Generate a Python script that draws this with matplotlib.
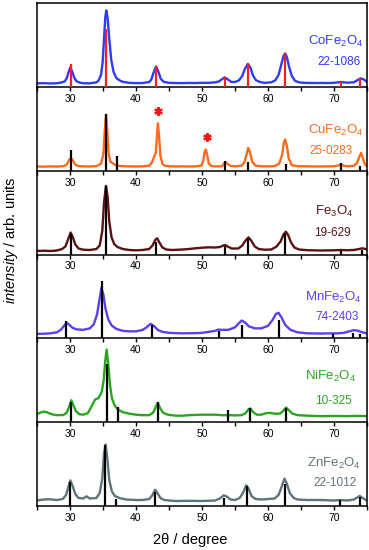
import numpy as np
import matplotlib
matplotlib.use('Agg')
import matplotlib.pyplot as plt
import matplotlib.ticker as ticker

plt.rcParams['font.family'] = ['Liberation Sans', 'DejaVu Sans']
plt.rcParams['mathtext.fontset'] = 'custom'
plt.rcParams['mathtext.rm'] = 'Liberation Sans'
plt.rcParams['mathtext.it'] = 'Liberation Sans:italic'

# scans: (2theta, height in panel pixels)
co_scan = [(25, 3.5), (26, 3.7), (27, 3.4), (28, 3.6), (28.8, 4.5), (29.2, 5.5), (29.5, 8.5), (29.75, 14),
           (30.05, 19.5), (30.35, 15), (30.65, 9), (31, 5.5), (31.5, 4.2), (32, 3.6), (33, 3.5), (34, 4.5),
           (34.3, 6), (34.7, 12), (34.95, 25), (35.15, 48), (35.35, 70), (35.5, 76.5), (35.7, 69),
           (35.95, 48), (36.25, 27), (36.6, 15), (37, 9), (37.5, 6.5), (38, 5), (39, 4), (40, 3.7), (41, 3.8),
           (42, 4.8), (42.3, 7), (42.65, 14), (43.05, 20.5), (43.4, 15), (43.75, 8), (44.2, 5), (45, 4),
           (46, 3.8), (47, 3.7), (48, 3.9), (49, 3.8), (50, 4), (51, 4), (52, 4.5), (52.6, 5.5), (53.0, 7.5),
           (53.45, 9.5), (53.9, 7.5), (54.4, 5), (55, 4.8), (55.6, 6.5), (56.1, 11), (56.5, 18), (56.95, 23),
           (57.35, 19), (57.75, 11), (58.2, 6.5), (58.8, 4.8), (59.5, 4), (60.5, 4.5), (61.1, 6.5), (61.6, 12),
           (62.0, 22), (62.35, 31), (62.6, 33.5), (62.85, 30), (63.2, 20), (63.6, 11), (64.1, 6), (64.7, 4.5),
           (65.5, 4), (67, 3.8), (68, 3.9), (69, 3.8), (70, 4), (71, 4.8), (72, 4.2), (73, 4.5),
           (73.5, 6.5), (74, 8.5), (74.5, 7.5), (75, 5)]
cu_scan = [(25, 4.2), (26, 4.0), (27, 4.3), (28, 4.1), (29, 4.5), (29.5, 6), (29.85, 10.5), (30.15, 12.8),
           (30.45, 10), (30.8, 6), (31.3, 4.6), (32, 4.3), (33, 4.2), (34, 4.5), (34.7, 7), (35.05, 16),
           (35.25, 38), (35.45, 56), (35.65, 40), (35.85, 17), (36.1, 9), (36.35, 8), (36.7, 6.5), (37, 5),
           (38, 4.5), (39, 4.3), (40, 4.2), (41, 4.3), (42, 5), (42.4, 8), (42.75, 14), (43.0, 18),
           (43.15, 32), (43.32, 47.5), (43.5, 34), (43.7, 15), (44.0, 7), (44.4, 4.8), (45, 4.4),
           (46, 4.2), (47, 4.3), (48, 4.2), (49, 4.3), (49.9, 5), (50.2, 10), (50.4, 19), (50.6, 21.2),
           (50.8, 15), (51.05, 7), (51.4, 4.6), (52, 4.3), (53, 4.5), (53.25, 6), (53.55, 8.8), (53.85, 7),
           (54.3, 4.8), (55, 4.3), (56, 5), (56.4, 8), (56.75, 16), (57.0, 22.8), (57.25, 19), (57.6, 9),
           (58.1, 5), (59, 4.4), (60, 4.3), (61, 4.5), (61.7, 7), (62.15, 16), (62.4, 28), (62.6, 31.2),
           (62.85, 25), (63.15, 12), (63.6, 5.5), (64.5, 4.5), (66, 4.3), (68, 4.2), (70, 4.4), (70.8, 5.5),
           (71.1, 6), (71.4, 5), (72, 4.5), (73, 4.8), (73.5, 8), (73.85, 14), (74.1, 17.8), (74.35, 13),
           (74.7, 6), (75, 4.8)]
fe_scan = [(25, 3.5), (26, 3.8), (27, 3.5), (28, 4), (28.8, 5.5), (29.3, 8), (29.7, 15), (30.1, 22),
           (30.45, 17), (30.8, 10), (31.3, 6), (32, 4.8), (33, 4.5), (34, 5.5), (34.5, 9), (34.9, 24),
           (35.15, 52), (35.45, 68.8), (35.7, 58), (35.95, 33), (36.3, 17), (36.7, 10.5), (37.2, 7.5),
           (38, 5.5), (39, 4.5), (40, 4.2), (41, 4.5), (42, 5.5), (42.5, 9), (42.9, 14.5), (43.2, 16.2),
           (43.55, 12), (44.0, 7), (44.6, 5), (45.5, 4.5), (47, 5), (48, 5.5), (49, 6.2), (50, 6.8),
           (51, 7.2), (52, 7), (52.7, 7.5), (53.1, 8.7), (53.5, 9.5), (53.9, 8), (54.5, 6), (55.5, 6),
           (56.1, 9), (56.6, 14), (57.05, 17.2), (57.45, 14), (58.0, 8), (58.6, 5.5), (59.5, 4.8),
           (60.5, 5), (61.3, 8), (61.9, 13), (62.35, 20), (62.7, 22.8), (63.05, 19.5), (63.5, 12), (64.0, 7),
           (64.7, 5), (66, 4.3), (68, 4), (70, 4.2), (71, 4.5), (72, 4.3), (73, 4.5), (73.8, 5.5),
           (74.3, 6.2), (74.8, 5.5), (75, 5)]
mn_scan = [(25, 4.5), (26, 4.6), (27, 5), (28, 6), (28.6, 8.5), (29.1, 12.5), (29.5, 15.5), (29.9, 13.5),
           (30.4, 10.5), (31, 9), (32, 8.5), (33, 10), (33.6, 14), (34.1, 24), (34.45, 38), (34.75, 50.5),
           (35.05, 44), (35.4, 29), (35.8, 19), (36.3, 13), (37, 9.5), (38, 7.5), (39, 7), (40, 7),
           (41, 8.5), (41.6, 11), (42.2, 14.5), (42.7, 12.5), (43.3, 8.5), (44, 6.5), (45, 5.5), (47, 5),
           (49, 5.2), (50, 5.5), (51, 6.5), (52, 7.5), (52.5, 8.8), (53, 8.5), (54, 8.5), (55, 11),
           (55.5, 14.5), (56, 17.8), (56.5, 16), (57.1, 12), (58, 10), (59, 10), (60, 12.5), (60.7, 18.5),
           (61.2, 24.5), (61.6, 25.5), (62.05, 21), (62.6, 13.5), (63.4, 8.5), (64.5, 6), (66, 5), (68, 4.8),
           (69.5, 5), (70.5, 5), (71.5, 5.5), (72.3, 7), (73, 8.2), (73.7, 7.5), (74.3, 6), (75, 5)]
ni_scan = [(25, 8), (25.5, 9.5), (26, 10.5), (26.5, 10), (27, 8.5), (27.5, 7.5), (28, 7), (29, 7.2),
           (29.5, 9.5), (29.9, 16), (30.2, 22), (30.5, 17), (30.9, 11), (31.4, 8), (32, 7.5), (32.7, 9),
           (33.2, 15), (33.8, 22.7), (34.3, 24), (34.8, 30), (35.1, 42), (35.35, 62), (35.55, 72.7),
           (35.8, 58), (36.05, 38), (36.35, 24), (36.75, 17), (37.2, 13), (38, 10), (39, 8.5), (40, 7.5),
           (41, 7), (42, 7), (42.6, 9.5), (43.05, 16), (43.3, 19.3), (43.65, 14), (44.1, 9.5), (44.8, 7.5),
           (46, 6.5), (47, 6.5), (48, 7), (50, 7.5), (52, 7.5), (53, 7), (54, 7), (55, 6.8), (56, 7),
           (56.6, 9), (57.05, 13), (57.35, 13.7), (57.75, 10), (58.3, 7.5), (59, 7.5), (59.7, 9),
           (60.3, 9.3), (61, 8.5), (61.8, 8.5), (62.25, 11), (62.75, 14.7), (63.15, 12), (63.7, 8.5),
           (64.5, 7), (66, 6.5), (68, 6), (70, 6.2), (72, 6), (73, 6.3), (74, 6.2), (75, 6)]
zn_scan = [(25, 5.5), (26, 6.5), (27, 6.7), (28, 6), (28.9, 7), (29.4, 11), (29.75, 19), (30.05, 25.7),
           (30.4, 20), (30.8, 12), (31.3, 8), (32, 7.5), (32.5, 9.7), (33, 7.5), (34, 8), (34.5, 13),
           (34.9, 28), (35.15, 52), (35.4, 61.7), (35.65, 48), (35.95, 26), (36.35, 14.5), (36.8, 10),
           (37.5, 8), (38.5, 6.5), (40, 6), (41, 6), (42, 7), (42.5, 11), (42.9, 16.4), (43.3, 12.5),
           (43.7, 8), (44.3, 6), (45, 5.5), (46, 5), (48, 5.2), (50, 5), (52, 5.5), (52.7, 7.5),
           (53.3, 10.7), (53.75, 9.5), (54.3, 6.5), (55, 6), (55.7, 8), (56.2, 13), (56.7, 20.7),
           (57.05, 17.5), (57.5, 10), (58.1, 7), (59, 6.5), (60, 7), (61, 7.5), (61.6, 11), (62.1, 20),
           (62.5, 27.4), (62.85, 22.5), (63.3, 13), (63.9, 8), (64.5, 6.5), (66, 6), (68, 6), (70, 5.5),
           (71, 6), (72, 5.5), (73, 6.5), (73.5, 8.5), (73.9, 10), (74.35, 8), (74.8, 6), (75, 5.5)]

# reference card lines (JCPDS)
co_ref_pos = [30.1, 35.45, 43.05, 53.45, 57.0, 62.6, 71.0, 74.0]
co_ref_int = [22.7, 57.7, 21, 10, 22.7, 34.3, 6, 9.3]
cu_ref_pos = [30.1, 35.5, 37.1, 53.5, 57.0, 62.8, 71.1, 74.0]
cu_ref_int = [21, 57, 14.5, 9.5, 9, 7, 7.5, 5]
fe_ref_pos = [30.1, 35.45, 43.1, 53.5, 57.0, 62.6, 71.0, 74.2]
fe_ref_int = [20.5, 69, 12.2, 9, 15.5, 20.5, 5, 4.5]
mn_ref_pos = [29.4, 34.8, 42.4, 52.6, 56.1, 61.6, 69.9, 72.9, 73.9]
mn_ref_int = [17, 57.8, 13.5, 7, 13.5, 18, 4, 5, 4]
ni_ref_pos = [30.1, 35.6, 37.3, 43.3, 53.9, 57.3, 62.8]
ni_ref_int = [20.3, 58, 14.7, 20.3, 12, 13.7, 13.7]
zn_ref_pos = [30.0, 35.35, 36.9, 42.9, 53.4, 56.85, 62.55, 70.9, 73.9]
zn_ref_int = [24, 61, 7.4, 14, 8, 20.5, 22.4, 6.4, 9]

# impurity peaks in CuFe2O4
star_pos = [43.35, 50.7]
star_int = [59.5, 33.5]

names = ['CoFe$_2$O$_4$', 'CuFe$_2$O$_4$', 'Fe$_3$O$_4$', 'MnFe$_2$O$_4$', 'NiFe$_2$O$_4$', 'ZnFe$_2$O$_4$']
cards = ['22-1086', '25-0283', '19-629', '74-2403', '10-325', '22-1012']
scans = [co_scan, cu_scan, fe_scan, mn_scan, ni_scan, zn_scan]
ref_pos = [co_ref_pos, cu_ref_pos, fe_ref_pos, mn_ref_pos, ni_ref_pos, zn_ref_pos]
ref_int = [co_ref_int, cu_ref_int, fe_ref_int, mn_ref_int, ni_ref_int, zn_ref_int]
line_colors = ['#2f3cff', '#ff6a1c', '#5a1212', '#5b3ff2', '#2aa51e', '#5f747c']
ref_colors = ['#ff1c1c', 'black', 'black', 'black', 'black', 'black']
name_y = [40, 35, 38.5, 35.5, 40.5, 37.5]
card_y = [20, 15, 16.5, 16.5, 16.5, 18]
name_x = [0.99, 0.99, 0.96, 0.985, 0.965, 0.98]
card_x = [0.98, 0.955, 0.95, 0.975, 0.955, 0.97]

fig = plt.figure(figsize=(3.69, 5.5), dpi=100)
left, right = 37 / 369, 367 / 369
top, bottom = 1 - 3 / 550, 1 - 506 / 550
h = (top - bottom) / 6

for i in range(6):
    ax = fig.add_axes([left, top - (i + 1) * h, right - left, h])
    ax.set_facecolor('none')
    x, y = np.array(scans[i]).T
    ax.plot(x, y, color=line_colors[i], lw=1.7, zorder=2, solid_joinstyle='round')
    ax.vlines(ref_pos[i], 0, ref_int[i], color=ref_colors[i], lw=1.6, zorder=3)
    if i == 1:
        ax.plot(star_pos, star_int, ls='none', marker=(6, 2, 0), ms=6, mew=1.6, color='#ff1010')
    ax.set_xlim(25, 75)
    ax.set_ylim(0, 84)
    ax.set_yticks([])
    ax.xaxis.set_major_locator(ticker.MultipleLocator(10))
    ax.xaxis.set_minor_locator(ticker.MultipleLocator(5))
    ax.tick_params(axis='x', which='both', direction='out', length=3, width=1, labelsize=7.5, pad=2)
    for s in ax.spines.values():
        s.set_linewidth(1.1)
    if i > 0:
        ax.spines['top'].set_visible(False)
    ax.text(name_x[i], name_y[i] / 84 + 0.06, names[i], transform=ax.transAxes, ha='right', va='center',
            fontsize=9.5, color=line_colors[i])
    ax.text(card_x[i], card_y[i] / 84 + 0.06, cards[i], transform=ax.transAxes, ha='right',
            va='center', fontsize=8.5, color=line_colors[i])

fig.text(0.03, 0.564, r'$\it{intensity}$ / arb. units', rotation=90, ha='center', va='center', fontsize=10.5)
fig.text(0.515, 0.018, '2\u03b8 / degree', ha='center', va='center', fontsize=10.5)

fig.savefig('out.png', dpi=100)
